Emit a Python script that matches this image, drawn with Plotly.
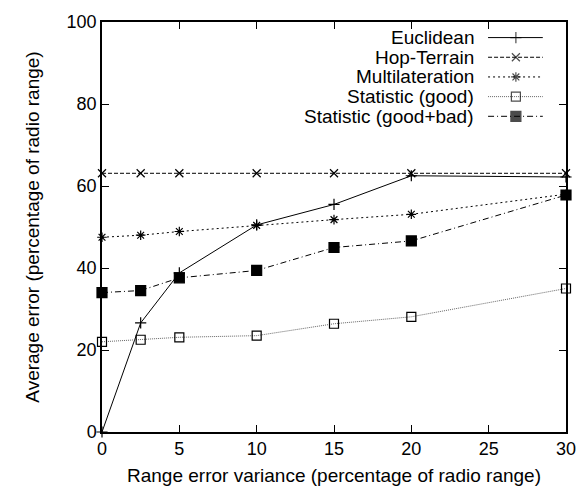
import plotly.graph_objects as go

x_vals = [0, 2.5, 5, 10, 15, 20, 30]
euclidean = [0, 26.6, 38.8, 50.5, 55.5, 62.5, 62.2]
hop_terrain = [63.1, 63.1, 63.1, 63.1, 63.1, 63.1, 63.1]
multilateration = [47.5, 48.0, 48.9, 50.4, 51.8, 53.1, 58.0]
stat_good = [22.0, 22.5, 23.1, 23.5, 26.4, 28.1, 35.0]
stat_goodbad = [34.0, 34.5, 37.6, 39.4, 45.0, 46.6, 57.8]

x_ticks = [0, 5, 10, 15, 20, 25, 30]
y_ticks = [0, 20, 40, 60, 80, 100]

names = ["Euclidean", "Hop-Terrain", "Multilateration", "Statistic (good)", "Statistic (good+bad)"]
series = [euclidean, hop_terrain, multilateration, stat_good, stat_goodbad]
dashes = ["solid", "4px,2px", "2px,3px", "1px,1px", "6px,3px,1px,3px"]
line_colors = ["black", "black", "black", "#666666", "black"]
symbols = ["cross-thin-open", "x-thin-open", "asterisk-open", "square-open", "square"]
msizes = [8, 8, 8, 9, 10]

FAM = "Liberation Sans, Arial, Helvetica, sans-serif"

fig = go.Figure()
for name, ys, d, c, s, ms in zip(names, series, dashes, line_colors, symbols, msizes):
    fig.add_trace(go.Scatter(
        x=x_vals, y=ys, mode="lines+markers", name=name,
        line=dict(color=c, width=1, dash=d),
        marker=dict(symbol=s, size=ms, color="black", line=dict(color="black", width=1.2)),
        showlegend=False, cliponaxis=False,
    ))

# gnuplot-style key: text right-aligned, sample to its right
leg_y = [0.962, 0.914, 0.866, 0.818, 0.770]
for name, ly, d, c, s, ms in zip(names, leg_y, dashes, line_colors, symbols, msizes):
    fig.add_trace(go.Scatter(
        x=[0.832, 0.892, 0.950], y=[ly, ly, ly], mode="lines+markers",
        xaxis="x2", yaxis="y2", showlegend=False, hoverinfo="skip",
        line=dict(color=c, width=1, dash=d),
        marker=dict(symbol=s, size=[0, ms, 0], color="black", line=dict(color="black", width=1.2)),
    ))
    fig.add_annotation(xref="x2", yref="y2", x=0.806, y=ly, text=name, showarrow=False,
                       xanchor="right", yanchor="middle",
                       font=dict(family=FAM, size=19, color="black"))

fig.update_layout(
    width=588, height=496,
    margin=dict(l=102, r=22, t=14, b=64),
    paper_bgcolor="white", plot_bgcolor="white",
    font=dict(family=FAM, size=18, color="black"),
    xaxis=dict(range=[0, 30], tickvals=x_ticks, ticks="inside", ticklen=7,
               showline=True, linecolor="black", linewidth=1.5, mirror="allticks", showgrid=False,
               zeroline=False, tickcolor="black", tickfont=dict(size=18),
               title=dict(text="Range error variance (percentage of radio range)", standoff=10,
                          font=dict(size=19))),
    yaxis=dict(range=[0, 100], tickvals=y_ticks, ticks="inside", ticklen=7,
               showline=True, linecolor="black", linewidth=1.5, mirror="allticks", showgrid=False,
               zeroline=False, tickcolor="black", tickfont=dict(size=18),
               title=dict(text="Average error (percentage of radio range)", standoff=22,
                          font=dict(size=19))),
    xaxis2=dict(domain=[0, 1], range=[0, 1], overlaying="x", visible=False, fixedrange=True),
    yaxis2=dict(domain=[0, 1], range=[0, 1], overlaying="y", visible=False, fixedrange=True),
)

fig.write_html("out.html", config={"displayModeBar": False})

# remove the default page margin so the figure sits at (0, 0)
with open("out.html", "r", encoding="utf-8") as f:
    html = f.read()
html = html.replace("<head>", "<head><style>body{margin:0;padding:0;}</style>", 1)
with open("out.html", "w", encoding="utf-8") as f:
    f.write(html)
